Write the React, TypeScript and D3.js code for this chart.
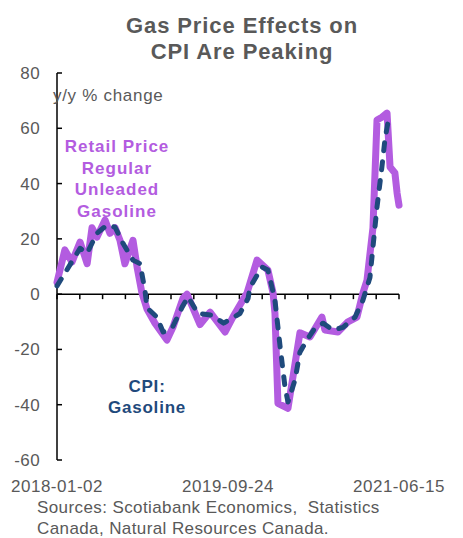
import React from "react";
import * as d3 from "d3";

// weekly retail price of regular unleaded gasoline, y/y %
const retailDates = [
  "2018-01-02", "2018-01-31", "2018-02-26", "2018-03-28", "2018-04-23", "2018-05-11",
  "2018-05-29", "2018-06-28", "2018-07-16", "2018-08-04", "2018-08-22", "2018-09-09",
  "2018-10-09", "2018-10-24", "2018-11-11", "2018-11-30", "2018-12-29", "2019-02-11",
  "2019-03-05", "2019-04-11", "2019-04-26", "2019-06-13", "2019-07-20", "2019-09-13",
  "2019-10-12", "2019-12-03", "2020-01-09", "2020-02-18", "2020-03-08", "2020-03-15",
  "2020-03-26", "2020-05-02", "2020-06-15", "2020-07-22", "2020-09-04", "2020-09-15",
  "2020-11-02", "2020-12-09", "2021-01-11", "2021-02-02", "2021-02-17", "2021-03-11",
  "2021-03-26", "2021-04-13", "2021-05-02", "2021-05-13", "2021-05-31", "2021-06-08",
  "2021-06-15",
];
const retailValues = [
  4.3, 16, 11.6, 18.8, 11, 24,
  20.6, 26.8, 22, 24, 19.5, 11,
  19.5, 9.8, 0.4, -5.5, -10.5, -16.6,
  -12, -1.5, 0, -11, -6.5, -13.7,
  -8.3, 0.4, 12.3, 8.7, 0.4, -6.9,
  -39.5, -41.3, -14, -15.5, -8.3, -13,
  -13.7, -10, -8.3, 0.4, 5, 24,
  63, 64, 65.5, 46, 43.8, 36.5,
  32.2,
];

// CPI gasoline, y/y %
const cpiDates = [
  "2018-01-02", "2018-01-31", "2018-03-28", "2018-04-23", "2018-05-29", "2018-07-05",
  "2018-08-04", "2018-09-02", "2018-10-09", "2018-11-04", "2018-11-22", "2018-11-30",
  "2019-01-05", "2019-01-28", "2019-03-02", "2019-04-08", "2019-04-30", "2019-06-05",
  "2019-07-25", "2019-09-08", "2019-11-07", "2019-12-07", "2019-12-14", "2020-01-27",
  "2020-02-18", "2020-03-04", "2020-03-15", "2020-04-03", "2020-04-21", "2020-05-02",
  "2020-05-28", "2020-06-15", "2020-07-11", "2020-08-09", "2020-09-08", "2020-10-15",
  "2020-11-21", "2021-01-04", "2021-02-02", "2021-02-28", "2021-03-11", "2021-03-26",
  "2021-04-13", "2021-04-24", "2021-05-05",
];
const cpiValues = [
  3, 7.6, 16.6, 14.8, 22, 25,
  24.2, 18.4, 12.3, 11, 1.4, -5,
  -8.3, -13.7, -12.3, -4.7, -1, -7,
  -7.6, -10.5, -7, -1.5, 2.5, 9.8,
  8.7, 2.5, -2.2, -19, -33.6, -39,
  -31, -21, -16.6, -12.3, -10.5, -13,
  -12, -8.3, -2.2, 6, 17, 31.5,
  46, 55.7, 62,
];

const yTicks = [80, 60, 40, 20, 0, -20, -40, -60];
const xLabels = ["2018-01-02", "2019-09-24", "2021-06-15"];
const titleLines = ["Gas Price Effects on", "CPI Are Peaking"];
const retailLabel = ["Retail Price", "Regular", "Unleaded", "Gasoline"];
const cpiLabel = ["CPI:", "Gasoline"];
const sourceLines = ["Sources: Scotiabank Economics,  Statistics", "Canada, Natural Resources Canada."];

const W = 463;
const H = 538;
const purple = "#B35CE0";
const navy = "#1F4A7C";
const grey = "#595959";
const font = "'Liberation Sans', Arial, sans-serif";

const parse = d3.timeParse("%Y-%m-%d");

export default function App() {
  const x = d3
    .scaleTime()
    .domain([parse("2018-01-02")!, parse("2021-06-15")!])
    .range([57, 399]);
  const y = d3.scaleLinear().domain([-60, 80]).range([460, 73]);

  const retail = retailDates.map((d, i) => ({ d: parse(d)!, v: retailValues[i] }));
  const cpi = cpiDates.map((d, i) => ({ d: parse(d)!, v: cpiValues[i] }));

  const line = d3
    .line<{ d: Date; v: number }>()
    .x((p) => x(p.d))
    .y((p) => y(p.v));

  // ticks every 12 weeks along the category axis
  const xTicks = d3.range(16).map((i) => d3.timeWeek.offset(parse("2018-01-02")!, i * 12));

  return (
    <svg width={W} height={H} style={{ position: "absolute", left: 0, top: 0 }} fontFamily={font}>
      <rect width={W} height={H} fill="#fff" />
      {titleLines.map((t, i) => (
        <text
          key={t}
          x={242}
          y={33 + i * 26}
          textAnchor="middle"
          fontSize={22}
          fontWeight="bold"
          letterSpacing={0.9}
          fill={grey}
        >
          {t}
        </text>
      ))}

      {/* y axis */}
      <line x1={57} x2={57} y1={y(80)} y2={y(-60)} stroke="#000" strokeWidth={1.5} />
      {yTicks.map((t) => (
        <g key={t}>
          <line x1={57} x2={62} y1={y(t)} y2={y(t)} stroke="#000" strokeWidth={1.5} />
          <text x={40} y={y(t) + 6} textAnchor="end" fontSize={17} letterSpacing={0.4} fill={grey}>
            {t}
          </text>
        </g>
      ))}

      {/* x axis at zero */}
      <line x1={57} x2={399} y1={y(0)} y2={y(0)} stroke="#000" strokeWidth={1.5} />
      {xTicks.map((t, i) => (
        <line key={i} x1={x(t)} x2={x(t)} y1={y(0)} y2={y(0) + 5} stroke="#000" strokeWidth={1.5} />
      ))}
      {xLabels.map((t) => (
        <text key={t} x={x(parse(t)!)} y={492} textAnchor="middle" fontSize={17} letterSpacing={0.5} fill={grey}>
          {t}
        </text>
      ))}

      <text x={53} y={101} fontSize={17} letterSpacing={0.7} fill={grey}>
        y/y % change
      </text>

      <path
        d={line(retail) ?? ""}
        fill="none"
        stroke={purple}
        strokeWidth={7}
        strokeLinejoin="round"
        strokeLinecap="round"
      />
      <path
        d={line(cpi) ?? ""}
        fill="none"
        stroke={navy}
        strokeWidth={5}
        strokeDasharray="8 11"
        strokeLinecap="round"
        strokeLinejoin="round"
      />

      {retailLabel.map((t, i) => (
        <text
          key={t}
          x={117}
          y={152 + i * 21.5}
          textAnchor="middle"
          fontSize={17}
          fontWeight="bold"
          letterSpacing={1}
          fill={purple}
        >
          {t}
        </text>
      ))}
      {cpiLabel.map((t, i) => (
        <text
          key={t}
          x={147}
          y={392 + i * 21}
          textAnchor="middle"
          fontSize={17}
          fontWeight="bold"
          letterSpacing={0.8}
          fill={navy}
        >
          {t}
        </text>
      ))}

      {sourceLines.map((t, i) => (
        <text key={t} x={37} y={513 + i * 21} fontSize={17} letterSpacing={0.4} fill={grey} xmlSpace="preserve">
          {t}
        </text>
      ))}
    </svg>
  );
}
